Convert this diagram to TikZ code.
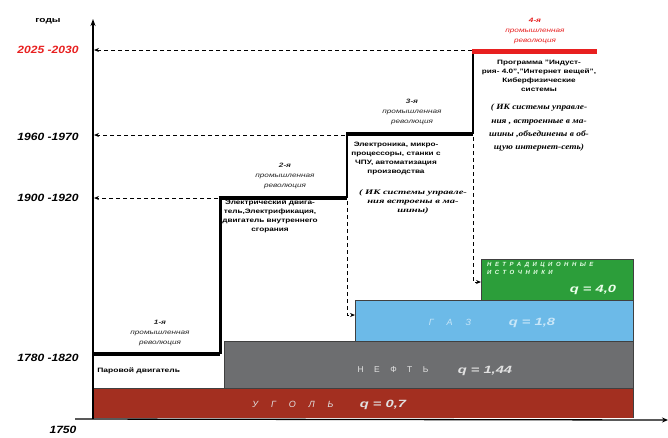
\documentclass[tikz,border=0pt]{standalone}
\usepackage{fontspec}
\setmainfont{Liberation Sans}
\newfontfamily\serifcyr{Liberation Serif}
\usetikzlibrary{arrows.meta}
\definecolor{coalred}{RGB}{163,47,32}
\definecolor{oilgray}{RGB}{109,110,112}
\definecolor{gasblue}{RGB}{108,186,232}
\definecolor{greenbar}{RGB}{44,158,58}
\definecolor{revred}{RGB}{232,32,32}
\definecolor{gastext}{RGB}{200,230,248}
\definecolor{bartext}{RGB}{225,225,225}
\begin{document}
\begin{tikzpicture}[x=1pt,y=-1pt,
  wide/.style={transform shape, xscale=#1},
  yearlbl/.style={font=\fontsize{10.5}{12}\selectfont\bfseries\itshape, inner sep=0, wide=1.15},
  revlbl/.style={font=\fontsize{6.3}{10}\selectfont\itshape, align=center, inner sep=0, text=black!85, wide=1.3},
  desclbl/.style={font=\fontsize{6.3}{9}\selectfont\bfseries, align=center, inner sep=0, wide=1.3},
  iklbl/.style={font=\serifcyr\fontsize{7}{9}\selectfont\bfseries\itshape, align=center, inner sep=0},
  axisline/.style={line width=1.3pt, -{Stealth[length=7pt,width=5pt]}},
  dasharrow/.style={dashed, dash pattern=on 4pt off 3pt, line width=0.9pt, -{Stealth[length=5pt,width=4pt]}},
  stepthick/.style={line width=4.5pt},
  stepthin/.style={line width=2pt},
  barbox/.style={draw=black!75, line width=0.6pt},
  bartxt/.style={font=\fontsize{10.5}{12}\selectfont\bfseries\itshape, inner sep=0, wide=1.4},
  spacedtxt/.style={font=\fontsize{9}{10}\selectfont\itshape\addfontfeature{LetterSpace=115}, inner sep=0}
]
\useasboundingbox (0,0) rectangle (668,437);
\fill[white] (0,0) rectangle (668,437);

% ---- energy bars ----
\fill[coalred] (94,388) rectangle (633,418);
\draw[barbox] (94,388) -- (633,388) -- (633,418);
\fill[oilgray] (224,341) rectangle (633,388);
\draw[barbox] (224,388) |- (633,341) -- (633,388);
\fill[gasblue] (355,300) rectangle (633,341);
\draw[barbox] (355,341) |- (633,300) -- (633,341);
\fill[greenbar] (481,259) rectangle (633,300);
\draw[barbox] (481,300) |- (633,259) -- (633,300);

\node[spacedtxt, text=bartext] (coalname) at (293,404) {У Г О Л Ь};
\node[bartxt, text=bartext] (coalq) at (383,405) {q = 0,7};
\node[spacedtxt, text=bartext, font=\fontsize{8.5}{10}\selectfont\addfontfeature{LetterSpace=95}] (oilname) at (393,370) {Н Е Ф Т Ь};
\node[bartxt, text=bartext] (oilq) at (485,371) {q = 1,44};
\node[spacedtxt, text=gastext] (gasname) at (450,322) {Г А З};
\node[bartxt, text=gastext] (gasq) at (532,323) {q = 1,8};
\node[font=\fontsize{6}{8}\selectfont\bfseries\itshape\addfontfeature{LetterSpace=58}, text=white!90!green, align=left, anchor=north west, inner sep=0] (greenname) at (487,262) {НЕТРАДИЦИОННЫЕ\\ИСТОЧНИКИ};
\node[bartxt, text=white!92!green] (greenq) at (593,290) {q = 4,0};

% ---- axes ----
\coordinate (yaxbot) at (93,419);
\coordinate (yaxtop) at (93,19);
\coordinate (xaxleft) at (75,419);
\coordinate (xaxright) at (668,420);
\draw[line width=1.3pt] (yaxbot) -- (93,24);
\draw[axisline] (93,30) -- (yaxtop);
\draw[line width=1.3pt, -{Stealth[length=6pt,width=5pt]}] (xaxleft) -- (xaxright);

% ---- year labels ----
\node[font=\fontsize{7.5}{9}\selectfont\bfseries, inner sep=0, wide=1.35] (years) at (48,21) {годы};
\node[yearlbl, text=revred] (y2025) at (48,50) {2025 -2030};
\node[yearlbl] (y1960) at (48,137) {1960 -1970};
\node[yearlbl] (y1900) at (48,198) {1900 -1920};
\node[yearlbl] (y1780) at (48,358) {1780 -1820};
\node[yearlbl] (y1750) at (63,430) {1750};

% ---- step corners ----
\coordinate (s1l) at (93,354);
\coordinate (s1r) at (220,354);
\coordinate (s2l) at (220,198);
\coordinate (s2r) at (347,198);
\coordinate (s3l) at (347,134);
\coordinate (s3r) at (473,134);
\coordinate (s4l) at (473,51);
\coordinate (s4r) at (597,51);

\draw[stepthick] (s1l) -- (s1r);
\draw[line width=3pt] (s1r) -- (s2l);
\draw[stepthick] (218.5,198) -- (s2r);
\draw[stepthin] (s2r) -- (s3l);
\draw[stepthick] (346,134) -- (s3r);
\draw[stepthin] (s3r) -- (s4l);
\draw[line width=5pt, revred] (472,51) -- (s4r);

% ---- dashed arrows to axis ----
\coordinate (a2025) at (94,50);
\coordinate (a1960) at (94,135);
\coordinate (a1900) at (94,198);
\draw[dasharrow] (472,50) -- (a2025);
\draw[dasharrow] (345,135) -- (a1960);
\draw[dasharrow] (218,198) -- (a1900);

% ---- dashed arrows to bars ----
\coordinate (gasin) at (355,315);
\coordinate (greenin) at (481,282);
\draw[dasharrow] (347,201) |- (gasin);
\draw[dasharrow] (473,137) |- (greenin);

% ---- revolution labels ----
\node[revlbl] (rev1) at (160,333) {\textbf{1-я}\\промышленная\\революция};
\node[revlbl] (rev2) at (285,176) {\textbf{2-я}\\промышленная\\революция};
\node[revlbl] (rev3) at (412,112) {\textbf{3-я}\\промышленная\\революция};
\node[revlbl, text=revred] (rev4) at (535,31) {\textbf{4-я}\\промышленная\\революция};

% ---- descriptions ----
\node[font=\fontsize{6.3}{9}\selectfont\bfseries, inner sep=0, wide=1.35, anchor=west] (d1) at (97,371) {Паровой двигатель};
\node[desclbl] (d2) at (270,216) {Электрический двига-\\тель,Электрификация,\\двигатель внутреннего\\сгорания};
\node[desclbl] (d3) at (396,158) {Электроника, микро-\\процессоры, станки с\\ЧПУ, автоматизация\\производства};
\node[iklbl, wide=1.5] (ik3) at (413,202) {( ИК системы управле-\\ния встроены в ма-\\шины)};
\node[desclbl] (d4) at (539,76) {Программа "Индуст-\\рия- 4.0","Интернет вещей",\\Киберфизические\\системы};
\node[iklbl, font=\serifcyr\fontsize{8}{13.3}\selectfont\bfseries\itshape, wide=1.17] (ik4) at (539,128) {( ИК системы управле-\\ния , встроенные в ма-\\шины ,объединены в об-\\щую интернет-сеть)};
\end{tikzpicture}
\end{document}
